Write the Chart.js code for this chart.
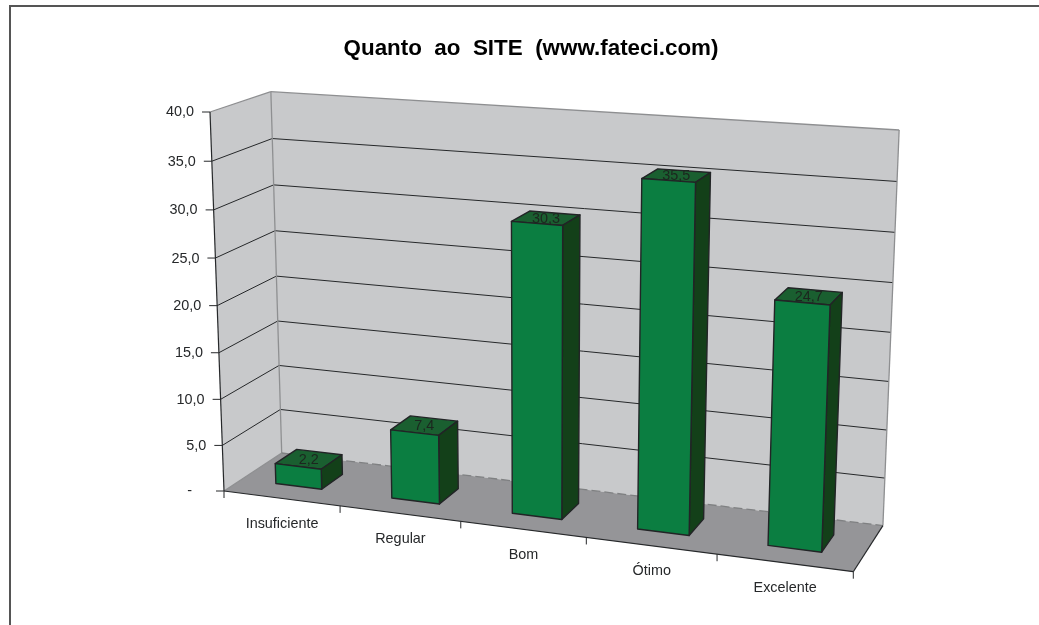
<!DOCTYPE html>
<html><head><meta charset="utf-8">
<style>html,body{margin:0;padding:0;background:#fff}canvas{display:block}</style>
<script src="https://cdn.jsdelivr.net/npm/chart.js@4/dist/chart.umd.js"></script>
</head><body><canvas id="c" width="1039" height="625"></canvas>
<script>
const categories = ['Insuficiente','Regular','Bom','Ótimo','Excelente'];
const values = [2.2, 7.4, 30.3, 35.5, 24.7];
const chartTitle = 'Quanto  ao  SITE  (www.fateci.com)';

// Perspective frame of the 3D box (screen position of its corners)
const O=[224,491], B=[853.3,571.7], C=[210,112], D=[281.7,453], E=[882.7,525.7], F=[269.3,91.7], G=[899.3,130];
const depthFront=0.30, depthBack=0.68;
const FONT='"Liberation Sans", Arial, sans-serif';

function solveProjective(){
  const rows=[], rhs=[];
  for(const k of [0,1]){
    rows.push([B[k]-E[k],0,D[k]-E[k]]); rhs.push(E[k]+O[k]-B[k]-D[k]);
    rows.push([0,C[k]-F[k],D[k]-F[k]]); rhs.push(F[k]+O[k]-C[k]-D[k]);
    rows.push([B[k]-G[k],C[k]-G[k],D[k]-G[k]]); rhs.push(G[k]+2*O[k]-B[k]-C[k]-D[k]);
  }
  const A=[[0,0,0,0],[0,0,0,0],[0,0,0,0]];
  rows.forEach((r,n)=>{for(let i=0;i<3;i++){for(let j=0;j<3;j++)A[i][j]+=r[i]*r[j];A[i][3]+=r[i]*rhs[n];}});
  for(let i=0;i<3;i++){
    for(let m=i+1;m<3;m++){const f=A[m][i]/A[i][i];for(let j=i;j<4;j++)A[m][j]-=f*A[i][j];}
  }
  const s=[0,0,0];
  for(let i=2;i>=0;i--){let t=A[i][3];for(let j=i+1;j<3;j++)t-=A[i][j]*s[j];s[i]=t/A[i][i];}
  return s;
}
const [pp,pq,pr]=solveProjective();
const va=[0,1].map(k=>B[k]*(1+pp)-O[k]), vb=[0,1].map(k=>C[k]*(1+pq)-O[k]), vc=[0,1].map(k=>D[k]*(1+pr)-O[k]);
function proj(u,v,d){
  const w=1+u*pp+v*pq+d*pr;
  return [(O[0]+u*va[0]+v*vb[0]+d*vc[0])/w,(O[1]+u*va[1]+v*vb[1]+d*vc[1])/w];
}
function poly(ctx,pts,fill,stroke,lw){
  ctx.beginPath();pts.forEach((p,i)=>i?ctx.lineTo(p[0],p[1]):ctx.moveTo(p[0],p[1]));ctx.closePath();
  if(fill){ctx.fillStyle=fill;ctx.fill();}
  if(stroke){ctx.strokeStyle=stroke;ctx.lineWidth=lw||1;ctx.stroke();}
}
function line(ctx,a,b,color,lw){
  ctx.beginPath();ctx.moveTo(a[0],a[1]);ctx.lineTo(b[0],b[1]);ctx.strokeStyle=color;ctx.lineWidth=lw||1;ctx.stroke();
}
const uOf=(chart,px)=>(px-chart.chartArea.left)/chart.chartArea.width;
const vOf=(chart,py)=>(chart.chartArea.bottom-py)/chart.chartArea.height;

class Bar3D extends Chart.BarElement{
  draw(ctx){
    const chart=this.chart3d;
    const {x,y,base,width}=this.getProps(['x','y','base','width'],true);
    const u0=uOf(chart,x-width/2),u1=uOf(chart,x+width/2),v0=vOf(chart,base),v1=vOf(chart,y);
    const d0=depthFront,d1=depthBack,edge='#222426';
    ctx.save();ctx.lineJoin='round';
    poly(ctx,[proj(u0,v1,d0),proj(u1,v1,d0),proj(u1,v1,d1),proj(u0,v1,d1)],'#1a5f30',edge,1.4);
    poly(ctx,[proj(u1,v0,d0),proj(u1,v0,d1),proj(u1,v1,d1),proj(u1,v1,d0)],'#134019',edge,1.4);
    poly(ctx,[proj(u0,v0,d0),proj(u1,v0,d0),proj(u1,v1,d0),proj(u0,v1,d0)],'#0b7e41',edge,1.4);
    const c=proj((u0+u1)/2,v1,(d0+d1)/2);
    ctx.fillStyle='#1c261f';ctx.font='14.4px '+FONT;ctx.textAlign='center';ctx.textBaseline='middle';
    ctx.fillText(this.value3d.toFixed(1).replace('.',','),c[0],c[1]+1);
    ctx.restore();
  }
}
Bar3D.id='bar3d';
Bar3D.defaults=Chart.BarElement.defaults;
class Bar3DController extends Chart.BarController{
  draw(){
    const data=this.getDataset().data;
    this.getMeta().data.forEach((el,i)=>{
      el.chart3d=this.chart;el.value3d=data[i];
      el.draw(this._ctx);
    });
  }
}
Bar3DController.id='bar3d';
Bar3DController.defaults=Object.assign({},Chart.BarController.defaults,{dataElementType:'bar3d'});
Bar3DController.overrides=Chart.BarController.overrides;
Chart.register(Bar3D,Bar3DController);

const box3d={
  id:'box3d',
  beforeDraw(chart){
    const ctx=chart.ctx;ctx.save();
    ctx.fillStyle='#fff';ctx.fillRect(0,0,chart.width,chart.height);
    ctx.beginPath();ctx.moveTo(10,chart.height);ctx.lineTo(10,6);ctx.lineTo(chart.width,6);ctx.strokeStyle='#555';ctx.lineWidth=2;ctx.stroke();
    ctx.restore();
  },
  beforeDatasetsDraw(chart){
    const ctx=chart.ctx,ys=chart.scales.y,wall='#c8c9cb',floor='#959598',edge='#8e8f91',dark='#26282a';
    ctx.save();
    poly(ctx,[proj(0,0,0),proj(0,1,0),proj(0,1,1),proj(0,0,1)],wall);
    poly(ctx,[proj(0,0,1),proj(1,0,1),proj(1,1,1),proj(0,1,1)],wall);
    poly(ctx,[proj(0,0,0),proj(1,0,0),proj(1,0,1),proj(0,0,1)],floor);
    ys.ticks.forEach(t=>{
      const v=vOf(chart,ys.getPixelForValue(t.value));
      if(t.value>0&&t.value<ys.max){
        line(ctx,proj(0,v,0),proj(0,v,1),dark);
        line(ctx,proj(0,v,1),proj(1,v,1),dark);
      }
    });
    line(ctx,proj(0,1,0),proj(0,1,1),edge,1.3);
    line(ctx,proj(0,1,1),proj(1,1,1),edge,1.3);
    line(ctx,proj(0,0,1),proj(0,1,1),edge,1.3);
    line(ctx,proj(1,0,1),proj(1,1,1),edge,1.3);
    line(ctx,proj(0,0,0),proj(0,0,1),edge,1.3);
    ctx.setLineDash([9,4]);
    line(ctx,proj(0,0,1),proj(1,0,1),'#7f8082',1.3);
    ctx.setLineDash([]);
    line(ctx,proj(0,0,0),proj(0,1,0),dark,1.2);
    line(ctx,proj(0,0,0),proj(1,0,0),dark,1.2);
    line(ctx,proj(1,0,0),proj(1,0,1),dark,1.2);
    ctx.restore();
  },
  afterDatasetsDraw(chart){
    const ctx=chart.ctx,ys=chart.scales.y,xs=chart.scales.x,dark='#26282a';
    ctx.save();
    ctx.font='14.4px '+FONT;ctx.fillStyle='#26282a';ctx.textBaseline='middle';
    ys.ticks.forEach(t=>{
      const p=proj(0,vOf(chart,ys.getPixelForValue(t.value)),0);
      line(ctx,[p[0]-8,p[1]],p,dark);
      ctx.textAlign='right';
      ctx.fillText(t.label,p[0]-(t.value===0?32:16),p[1]+0.5);
    });
    const n=xs.ticks.length;
    const edgeAt=i=>proj(i/n,0,0);
    for(let i=0;i<=n;i++){const p=edgeAt(i);line(ctx,p,[p[0],p[1]+7],dark);}
    xs.ticks.forEach((t,i)=>{
      const a=edgeAt(i),b=edgeAt(i+1);
      ctx.textAlign='center';
      ctx.fillText(t.label,(a[0]+b[0])/2,(a[1]+b[1])/2+25.5);
    });
    ctx.restore();
  }
};

new Chart(document.getElementById('c'),{
  type:'bar3d',
  data:{labels:categories,datasets:[{data:values,barPercentage:0.40,categoryPercentage:1}]},
  options:{
    responsive:false,animation:false,
    layout:{padding:{left:23}},
    plugins:{
      legend:{display:false},tooltip:{enabled:false},
      title:{display:true,text:chartTitle,color:'#000',font:{family:FONT,size:22.4,weight:'bold'},padding:{top:35,bottom:10}}
    },
    scales:{
      x:{type:'category',display:false,offset:true},
      y:{type:'linear',display:false,min:0,max:40,ticks:{stepSize:5,callback:v=>v===0?'-':v.toFixed(1).replace('.',',')}}
    }
  },
  plugins:[box3d]
});
</script></body></html>
